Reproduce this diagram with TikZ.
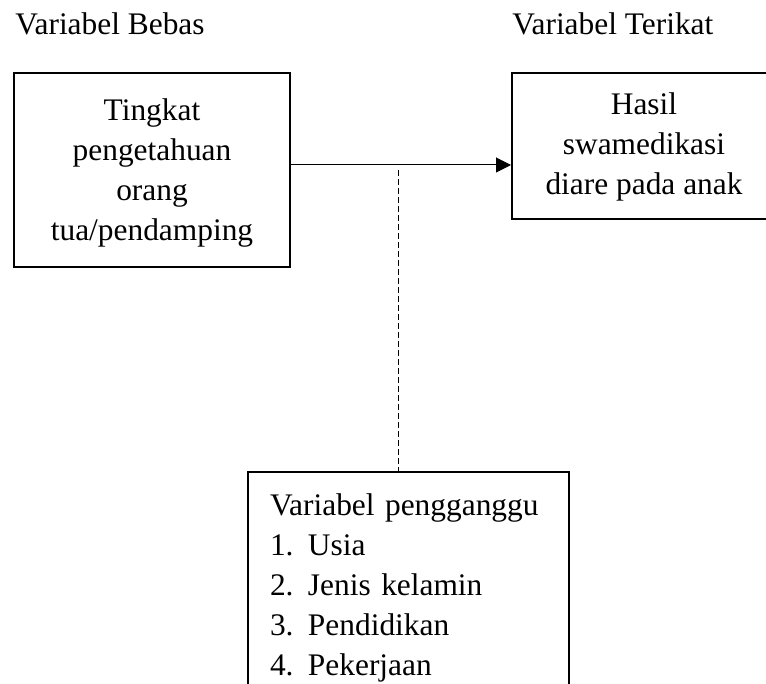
\documentclass[tikz,border=0pt]{standalone}
\usepackage{fontspec}
\setmainfont{Liberation Serif}
\usetikzlibrary{arrows.meta}
\tikzset{
	kotak/.style={draw, line width=1pt, align=center, inner sep=0pt},
	panah/.style={line width=0.5pt, -{Triangle[length=7.5pt, width=7.5pt]}},
	putus/.style={line width=0.5pt, dash pattern=on 3pt off 1.5pt},
	judul/.style={anchor=base west, inner sep=0pt}
}

\begin{document}
\begin{tikzpicture}[x=0.5pt, y=-0.5pt, font=\fontsize{15.7}{20}\selectfont]
		%%%%% START %%%%%
		\useasboundingbox (0, 0) rectangle (766, 684);
		\clip (0, 0) rectangle (766, 684);
		
		\node[judul] (bebas) at (15, 35) {Variabel Bebas};
		\node[judul] (terikat) at (512, 35) {Variabel Terikat};
		
		\node[kotak, minimum width=138pt, minimum height=97pt] (tingkat) at (152, 170) {\rule{0pt}{13.7pt}Tingkat\\pengetahuan\\orang\\tua/pendamping};
		\node[kotak, minimum width=132pt, minimum height=73pt] (hasil) at (644, 146) {\rule{0pt}{12pt}Hasil\\swamedikasi\\diare pada anak};
		
		\node[kotak, align=left, anchor=north west, text width=138.5pt, inner xsep=11pt, inner ysep=10.8pt] (pengganggu) at (247, 471) {Variabel pengganggu\\
			\makebox[19pt][l]{1.}Usia\\
			\makebox[19pt][l]{2.}Jenis kelamin\\
			\makebox[19pt][l]{3.}Pendidikan\\
			\makebox[19pt][l]{4.}Pekerjaan};
		
		\coordinate (aras) at (0, 165);
		\draw[panah] (tingkat.east |- aras) -- (hasil.west |- aras);
		
		\coordinate (cabang) at (398, 170);
		\draw[putus] (cabang) -- (cabang |- pengganggu.north);
		
		%%%%% END %%%%%
	\end{tikzpicture}
\end{document}
